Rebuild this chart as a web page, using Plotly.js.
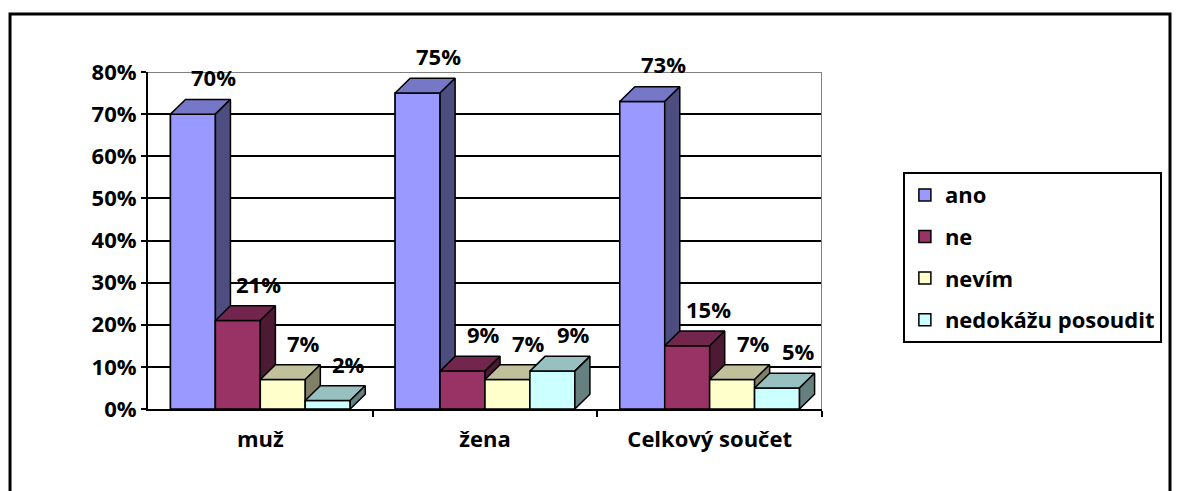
<!DOCTYPE html>
<html>
<head>
<meta charset="utf-8">
<script src="https://cdn.plot.ly/plotly-3.0.1.min.js"></script>
<style>
  html, body { margin: 0; padding: 0; background: #ffffff; }
  #chart { width: 1181px; height: 491px; }
</style>
</head>
<body>
<div id="chart"></div>
<script>
// ---- data ----
const categories = ['muž', 'žena', 'Celkový součet'];
const seriesNames = ['ano', 'ne', 'nevím', 'nedokážu posoudit'];
const ano = [70, 75, 73];
const ne = [21, 9, 15];
const nevim = [7, 7, 7];
const nedokazu = [2, 9, 5];
const yTicks = [0, 10, 20, 30, 40, 50, 60, 70, 80];

// ---- styles ----
const seriesValues = [ano, ne, nevim, nedokazu];
const frontColors = ['#9999FF', '#993366', '#FFFFCC', '#CCFFFF'];
const topColors   = ['#7777C8', '#73264D', '#C0C09A', '#99C0C0'];
const sideColors  = ['#4D4D80', '#4D1A33', '#808066', '#668080'];
const FONT = '"Open Sans", "Noto Sans", "DejaVu Sans", sans-serif';
const FS = 22;
const GROUP = 0.8;          // fraction of category occupied by bars
const DX = 0.067;           // 3D depth in x-axis units
const DY = 3.5;             // 3D depth in y-axis units
const LABEL_XSHIFT = 21, LABEL_YSHIFT = 37;   // px

const nS = seriesValues.length;
const w = GROUP / nS;
const catX = categories.map((_, i) => i);

const traces = [];

// legend / base bars
seriesValues.forEach((vals, s) => {
  traces.push({
    type: 'bar', x: catX, y: vals, name: seriesNames[s],
    legendgroup: 'g' + s,
    marker: { color: frontColors[s], line: { color: '#000', width: 1.5 } },
    hoverinfo: 'skip'
  });
});

// 3D faces, drawn in painter's order
seriesValues.forEach((vals, s) => {
  const off = -GROUP / 2 + w * (s + 0.5);
  const fx = [], fy = [], tx = [], ty = [], sx = [], sy = [];
  vals.forEach((v, c) => {
    const x0 = catX[c] + off - w / 2, x1 = catX[c] + off + w / 2;
    fx.push(x0, x1, x1, x0, x0, null); fy.push(0, 0, v, v, 0, null);
    tx.push(x0, x1, x1 + DX, x0 + DX, x0, null); ty.push(v, v, v + DY, v + DY, v, null);
    sx.push(x1, x1 + DX, x1 + DX, x1, x1, null); sy.push(0, DY, v + DY, v, 0, null);
  });
  const base = { type: 'scatter', mode: 'lines', fill: 'toself', showlegend: false,
                 hoverinfo: 'skip', line: { color: '#000', width: 1.5 } };
  traces.push(Object.assign({}, base, { x: fx, y: fy, fillcolor: frontColors[s] }));
  traces.push(Object.assign({}, base, { x: tx, y: ty, fillcolor: topColors[s] }));
  traces.push(Object.assign({}, base, { x: sx, y: sy, fillcolor: sideColors[s] }));
});

// value labels as annotations anchored at bar tops
const annotations = [];
seriesValues.forEach((vals, s) => {
  const off = -GROUP / 2 + w * (s + 0.5);
  vals.forEach((v, c) => {
    annotations.push({
      xref: 'x', yref: 'y', x: catX[c] + off, y: v,
      xshift: LABEL_XSHIFT, yshift: LABEL_YSHIFT,
      text: v + '%', showarrow: false,
      xanchor: 'center', yanchor: 'middle',
      font: { family: FONT, size: FS, color: '#000', weight: 'bold' }
    });
  });
});

const layout = {
  width: 1181, height: 491,
  margin: { l: 148, r: 359, t: 72, b: 82, autoexpand: false },
  paper_bgcolor: '#ffffff', plot_bgcolor: '#ffffff',
  barmode: 'group', bargap: 1 - GROUP, bargroupgap: 0,
  font: { family: FONT, size: FS, color: '#000', weight: 'bold' },
  xaxis: {
    range: [-0.5, 2.5], tickmode: 'array', tickvals: catX, ticktext: categories,
    ticks: '', showgrid: false, zeroline: false,
    showline: true, linecolor: '#000', linewidth: 2,
    tickfont: { family: FONT, size: FS, color: '#000', weight: 'bold' },
    ticklabelstandoff: 10,
    minor: { tickmode: 'array', tickvals: [0.5, 1.5, 2.5], ticks: 'outside',
             ticklen: 6, tickcolor: '#000', tickwidth: 2, showgrid: false },
    fixedrange: true
  },
  yaxis: {
    range: [0, 80], tickmode: 'array', tickvals: yTicks,
    ticktext: yTicks.map(t => t + '%'),
    ticks: 'outside', ticklen: 5, tickcolor: '#000', tickwidth: 2,
    showgrid: true, gridcolor: '#000', gridwidth: 2, zeroline: false,
    showline: true, linecolor: '#000', linewidth: 2,
    tickfont: { family: FONT, size: FS, color: '#000', weight: 'bold' },
    fixedrange: true
  },
  legend: {
    x: 1.12, xanchor: 'left', y: 0.703, yanchor: 'top',
    bordercolor: '#000', borderwidth: 2, bgcolor: '#fff',
    traceorder: 'grouped', tracegroupgap: 10,
    font: { family: FONT, size: 22, color: '#000', weight: 'bold' },
    itemwidth: 30
  },
  annotations: annotations,
  shapes: [
    { type: 'line', xref: 'x', yref: 'y', x0: -0.5, x1: 2.5, y0: 80, y1: 80,
      line: { color: '#808080', width: 2 } },
    { type: 'line', xref: 'x', yref: 'y', x0: 2.5, x1: 2.5, y0: 0, y1: 80,
      line: { color: '#808080', width: 2 } },
    { type: 'rect', xref: 'paper', yref: 'paper', x0: -0.2047, x1: 1.5163,
      y0: -0.28, y1: 1.172, line: { color: '#000', width: 3 }, layer: 'above' }
  ],
  showlegend: true
};

Plotly.newPlot('chart', traces, layout, { displayModeBar: false, staticPlot: true });
</script>
</body>
</html>
